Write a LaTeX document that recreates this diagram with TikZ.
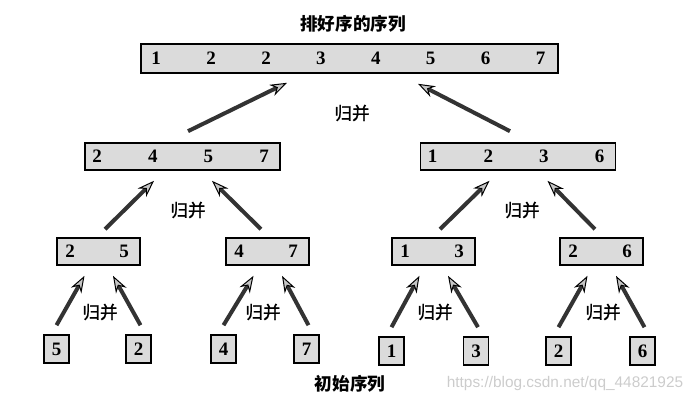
\documentclass[tikz,border=0pt]{standalone}
\usepackage{fontspec}
\setmainfont{Liberation Serif}
\newfontfamily\cjk{Noto Sans CJK SC}
\newfontfamily\cjkm[FakeBold=1.2]{Noto Sans CJK SC}
\newfontfamily\wmfont{Liberation Sans}
\usetikzlibrary{arrows.meta,calc}

\begin{document}
\begin{tikzpicture}[x=0.5pt,y=-0.5pt]
        \useasboundingbox (0,0) rectangle (696,406);

        \tikzstyle{seq}=[draw,line width=0.8pt,fill=gray!28,inner sep=0pt,minimum height=13.5pt]
        \tikzstyle{leaf}=[seq,minimum width=12.5pt,minimum height=14pt]
        \tikzstyle{num}=[font=\fontsize{9.5}{11}\selectfont\bfseries,inner sep=0pt]
        \tikzstyle{lbl}=[font=\cjkm\fontsize{8.8}{10}\selectfont,inner sep=0pt]
        \tikzstyle{ttl}=[font=\cjk\bfseries\fontsize{8.8}{10}\selectfont,inner sep=0pt]
        \tikzstyle{wm}=[font=\wmfont\fontsize{7.7}{9}\selectfont,text=gray!40,inner sep=0pt]
        \tikzstyle{merge}=[line width=2pt,black!80,
            -{Stealth[length=8.5pt,width=6pt,line width=0.5pt,fill=gray!45,color=black]}]

        % boxes
        \node [seq,minimum width=208.5pt,minimum height=14.5pt] (top) at (349.5,58.5) {};
        \node [seq,minimum width=97.5pt] (m1) at (182.5,156.5) {};
        \node [seq,minimum width=97.5pt] (m2) at (518,156.5) {};
        \node [seq,minimum width=41.5pt] (p1) at (98.5,251.5) {};
        \node [seq,minimum width=41.5pt] (p2) at (267.5,251.5) {};
        \node [seq,minimum width=41.5pt] (p3) at (433.5,251.5) {};
        \node [seq,minimum width=41.5pt] (p4) at (601.5,251.5) {};

        \node [leaf] (l1) at (56.5,349) {};
        \node [leaf] (l2) at (138.5,349) {};
        \node [leaf] (l3) at (223.5,349) {};
        \node [leaf] (l4) at (306.5,349) {};
        \node [leaf] (l5) at (391.5,351) {};
        \node [leaf] (l6) at (476,351) {};
        \node [leaf] (l7) at (558.5,351) {};
        \node [leaf] (l8) at (642.5,351) {};

        %numbers in the boxes
        \foreach \v [count=\i, evaluate=\i as \dx using 8+27.45*(\i-1)] in {1,2,2,3,4,5,6,7} {
            \node [num] (top-\i) at ([xshift=\dx pt]top.west) {\v};
        };
        \foreach \b/\vals in {m1/{2,4,5,7},m2/{1,2,3,6}} {
            \foreach \v [count=\i, evaluate=\i as \dx using 6.5+27.8*(\i-1)] in \vals {
                \node [num] (\b-\i) at ([xshift=\dx pt]\b.west) {\v};
            };
        };
        \foreach \b/\u/\w in {p1/2/5,p2/4/7,p3/1/3,p4/2/6} {
            \node [num] (\b-1) at ([xshift=7pt]\b.west) {\u};
            \node [num] (\b-2) at ([xshift=34pt]\b.west) {\w};
        };
        \foreach \b/\v in {l1/5,l2/2,l3/4,l4/7,l5/1,l6/3,l7/2,l8/6} {
            \node [num] (\b-v) at (\b) {\v};
        };

        % arrows
        \draw [merge] ($(m1.north)+(5.5,-11)$) -- ($(top.south)+(-62.5,9)$);
        \draw [merge] ($(m2.north)+(-8,-11)$) -- ($(top.south)+(68.5,10)$);
        \foreach \a/\c/\p in {p1/p2/m1,p3/p4/m2} {
            \draw [merge] ($(\a.north)+(6.5,-8)$) -- ($(\p.south)+(-28.5,10)$);
            \draw [merge] ($(\c.north)+(-6.5,-8)$) -- ($(\p.south)+(29.5,10)$);
        };
        \foreach \a/\c/\p in {l1/l2/p1,l3/l4/p2,l5/l6/p3,l7/l8/p4} {
            \draw [merge] ($(\a.north)+(0,-9)$) -- ($(\p.south)+(-14,10)$);
            \draw [merge] ($(\c.north)+(2,-9)$) -- ($(\p.south)+(14.5,10)$);
        };

        % labels
        \node [ttl] (title) at (353,24) {排好序的序列};
        \node [lbl] (g0) at (352,113) {归并};
        \node [lbl] (g1) at (188,210) {归并};
        \node [lbl] (g2) at (522,210) {归并};
        \node [lbl] (g3) at (100,312) {归并};
        \node [lbl] (g4) at (263,312) {归并};
        \node [lbl] (g5) at (435,312) {归并};
        \node [lbl] (g6) at (603,312) {归并};
        \node [ttl] (init) at (350,384) {初始序列};
        \node [wm] (wm) at (565,384) {https://blog.csdn.net/qq\_44821925};
\end{tikzpicture}
\end{document}
